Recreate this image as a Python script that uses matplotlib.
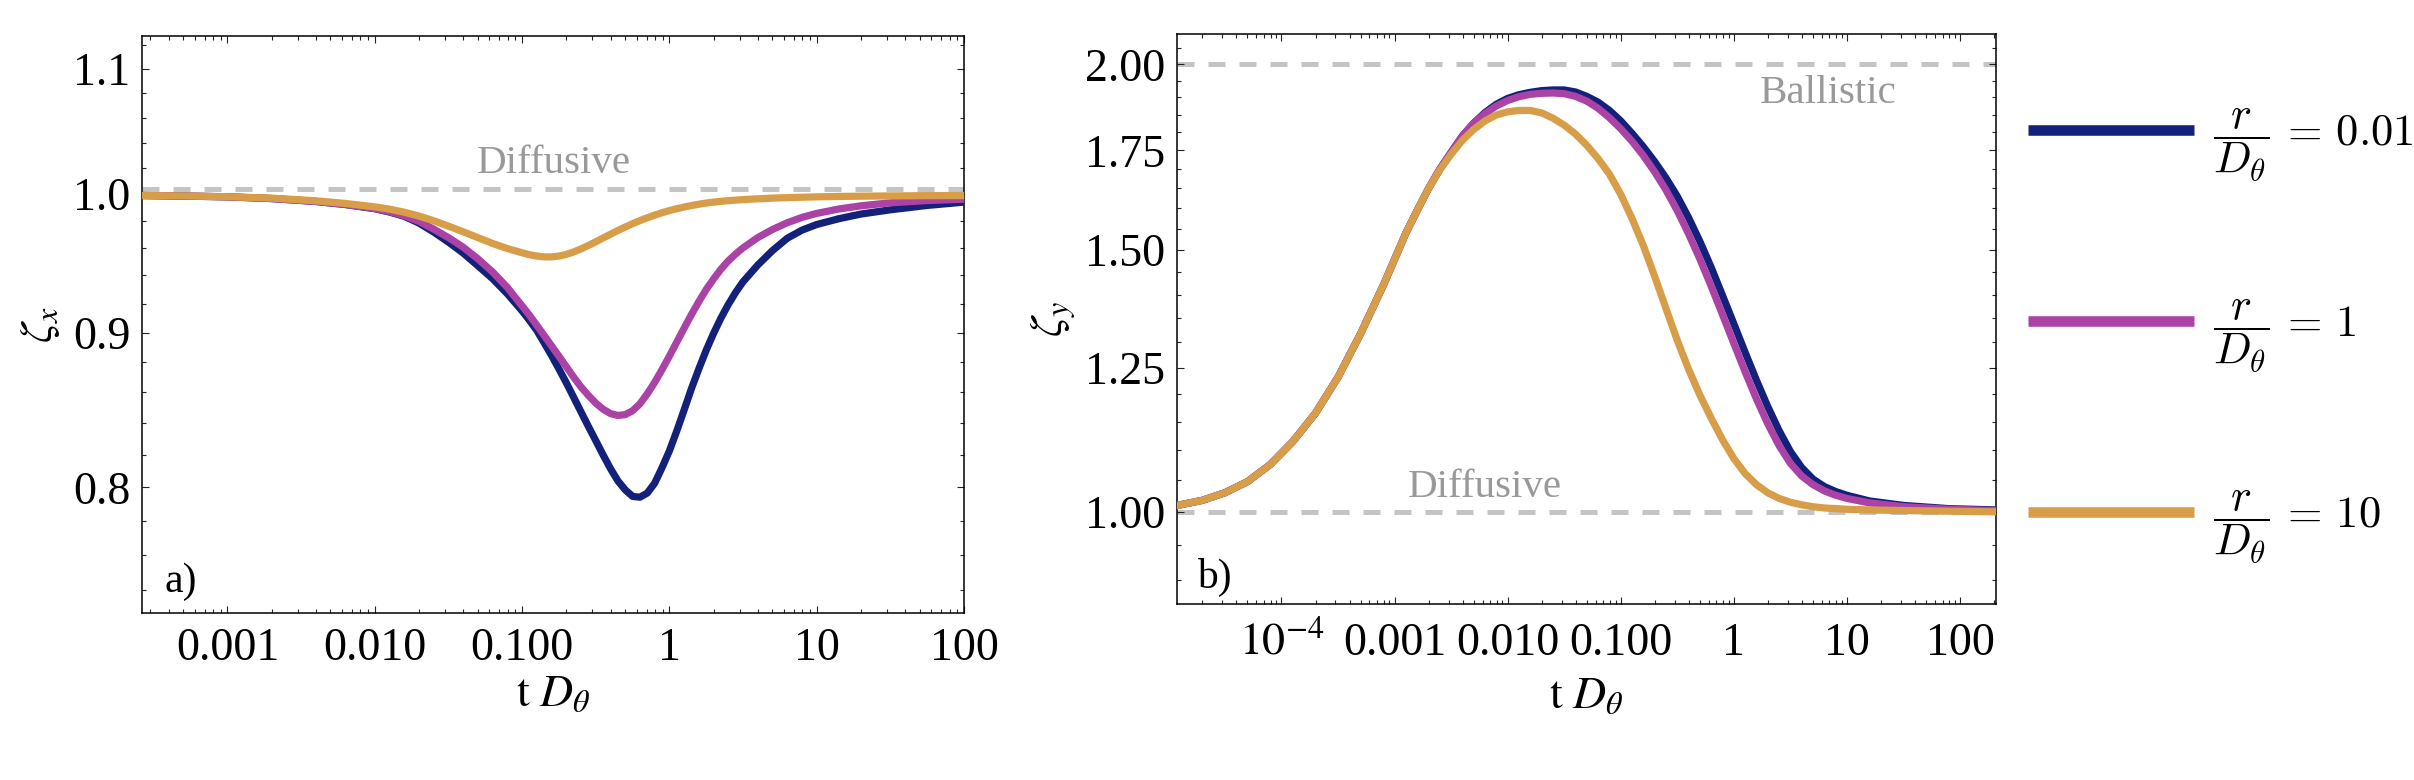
import numpy as np
import matplotlib
matplotlib.use("Agg")
import matplotlib.pyplot as plt
from matplotlib.ticker import FixedLocator, FixedFormatter, LogLocator, NullFormatter
from matplotlib.font_manager import FontProperties
from matplotlib.lines import Line2D

plt.rcParams['font.family'] = ['Liberation Serif', 'DejaVu Serif']
plt.rcParams['mathtext.fontset'] = 'stix'

# ---- data ----
ratios = ['0.01', '1', '10']
colors = ['#13217a', '#ab43a7', '#d89d48']

# panel a) zeta_x vs t D_theta (given as log10 of t D_theta)
log_t_a = [-3.58, -3.3, -3.0, -2.7, -2.4, -2.2, -2.0, -1.9, -1.8, -1.7, -1.6, -1.5,
           -1.4, -1.3, -1.2, -1.1, -1.0, -0.95, -0.9, -0.85, -0.8, -0.75, -0.7, -0.65,
           -0.6, -0.55, -0.5, -0.45, -0.4, -0.35, -0.3, -0.25, -0.2, -0.15, -0.1, -0.05,
           0.0, 0.05, 0.1, 0.15, 0.2, 0.25, 0.3, 0.35, 0.4, 0.45, 0.5, 0.6, 0.7, 0.8,
           0.9, 1.0, 1.15, 1.3, 1.5, 1.75, 2.0]
zeta_x_001 = [0.9990, 0.9986, 0.9980, 0.9967, 0.9945, 0.9922, 0.9890, 0.9865, 0.9833,
              0.9783, 0.9716, 0.9642, 0.9562, 0.9470, 0.9377, 0.9270, 0.9150, 0.9085,
              0.9015, 0.8930, 0.8845, 0.8755, 0.8663, 0.8568, 0.8473, 0.8380, 0.8290,
              0.8200, 0.8115, 0.8040, 0.7985, 0.7945, 0.7940, 0.7965, 0.8025, 0.8120,
              0.8225, 0.8350, 0.8485, 0.8625, 0.8755, 0.8880, 0.8995, 0.9100, 0.9195,
              0.9280, 0.9355, 0.9475, 0.9580, 0.9670, 0.9730, 0.9772, 0.9815, 0.9850,
              0.9882, 0.9915, 0.9940]
zeta_x_1 = [0.9990, 0.9986, 0.9980, 0.9967, 0.9945, 0.9922, 0.9892, 0.9868, 0.9837,
            0.9795, 0.9738, 0.9675, 0.9605, 0.9520, 0.9425, 0.9315, 0.9185, 0.9120,
            0.9050, 0.8980, 0.8910, 0.8840, 0.8770, 0.8700, 0.8635, 0.8580, 0.8530,
            0.8490, 0.8462, 0.8450, 0.8455, 0.8480, 0.8525, 0.8590, 0.8665, 0.8750,
            0.8840, 0.8935, 0.9030, 0.9125, 0.9215, 0.9300, 0.9375, 0.9445, 0.9505,
            0.9555, 0.9600, 0.9675, 0.9735, 0.9785, 0.9825, 0.9855, 0.9888, 0.9912,
            0.9935, 0.9952, 0.9962]
zeta_x_10 = [0.9990, 0.9987, 0.9981, 0.9970, 0.9950, 0.9930, 0.9904, 0.9887, 0.9864,
             0.9835, 0.9800, 0.9760, 0.9718, 0.9675, 0.9632, 0.9595, 0.9564, 0.9550,
             0.9540, 0.9534, 0.9534, 0.9540, 0.9552, 0.9570, 0.9592, 0.9617, 0.9644,
             0.9672, 0.9700, 0.9727, 0.9753, 0.9778, 0.9801, 0.9822, 0.9842, 0.9860,
             0.9876, 0.9890, 0.9903, 0.9914, 0.9924, 0.9933, 0.9940, 0.9946, 0.9951,
             0.9955, 0.9959, 0.9965, 0.9970, 0.9974, 0.9977, 0.9980, 0.9983, 0.9985,
             0.9987, 0.9989, 0.9990]

# panel b) zeta_y vs t D_theta
log_t_b = [-4.92, -4.7, -4.5, -4.3, -4.1, -3.9, -3.7, -3.5, -3.3, -3.1, -2.9, -2.8,
           -2.7, -2.6, -2.5, -2.4, -2.3, -2.2, -2.1, -2.0, -1.9, -1.8, -1.7, -1.6,
           -1.5, -1.4, -1.3, -1.2, -1.1, -1.0, -0.9, -0.8, -0.7, -0.6, -0.5, -0.4,
           -0.3, -0.2, -0.1, 0.0, 0.1, 0.2, 0.3, 0.4, 0.5, 0.6, 0.7, 0.8, 0.9, 1.0,
           1.2, 1.5, 1.9, 2.32]
zeta_y_001 = [1.010, 1.018, 1.030, 1.048, 1.076, 1.115, 1.165, 1.232, 1.318, 1.420,
              1.540, 1.595, 1.650, 1.700, 1.745, 1.790, 1.826, 1.856, 1.880, 1.897,
              1.908, 1.915, 1.920, 1.922, 1.922, 1.916, 1.903, 1.886, 1.862, 1.832,
              1.797, 1.760, 1.720, 1.677, 1.630, 1.577, 1.520, 1.460, 1.398, 1.338,
              1.280, 1.226, 1.177, 1.134, 1.098, 1.071, 1.052, 1.040, 1.032, 1.026,
              1.017, 1.010, 1.005, 1.003]
zeta_y_1 = [1.010, 1.018, 1.030, 1.048, 1.076, 1.115, 1.165, 1.232, 1.318, 1.420,
            1.540, 1.595, 1.650, 1.700, 1.745, 1.790, 1.826, 1.853, 1.875, 1.891,
            1.902, 1.909, 1.912, 1.913, 1.911, 1.903, 1.889, 1.868, 1.841, 1.810,
            1.775, 1.736, 1.693, 1.646, 1.594, 1.538, 1.479, 1.418, 1.357, 1.298,
            1.242, 1.191, 1.146, 1.108, 1.078, 1.057, 1.043, 1.033, 1.026, 1.021,
            1.014, 1.008, 1.004, 1.002]
zeta_y_10 = [1.010, 1.018, 1.030, 1.048, 1.076, 1.115, 1.165, 1.232, 1.318, 1.420,
             1.540, 1.595, 1.650, 1.698, 1.740, 1.778, 1.808, 1.832, 1.849, 1.858,
             1.862, 1.862, 1.855, 1.840, 1.820, 1.795, 1.764, 1.728, 1.687, 1.635,
             1.575, 1.510, 1.440, 1.370, 1.304, 1.247, 1.198, 1.156, 1.118, 1.086,
             1.061, 1.043, 1.030, 1.021, 1.015, 1.011, 1.008, 1.006, 1.005, 1.004,
             1.003, 1.002, 1.001, 1.000]

xticks_a = [1e-3, 1e-2, 1e-1, 1, 10, 100]
xlabels_a = ['0.001', '0.010', '0.100', '1', '10', '100']
xticks_b = [1e-4, 1e-3, 1e-2, 1e-1, 1, 10, 100]
xlabels_b = ['$10^{-4}$', '0.001', '0.010', '0.100', '1', '10', '100']
yticks_a = [0.8, 0.9, 1.0, 1.1]
ylabels_a = ['0.8', '0.9', '1.0', '1.1']
yticks_b = [1.0, 1.25, 1.5, 1.75, 2.0]
ylabels_b = ['1.00', '1.25', '1.50', '1.75', '2.00']

W, H = 2414, 780
fig = plt.figure(figsize=(W / 100, H / 100), dpi=100)


def px_axes(l, r, t, b):
    return fig.add_axes([l / W, 1 - b / H, (r - l) / W, (b - t) / H])


ax1 = px_axes(142, 964, 36, 613)
ax2 = px_axes(1177, 1996, 34, 604)

grey = '#c4c4c4'
textgrey = '#999999'
tick_fs = 33

for ax, (xt, xl, yt, yl) in zip([ax1, ax2], [(xticks_a, xlabels_a, yticks_a, ylabels_a),
                                              (xticks_b, xlabels_b, yticks_b, ylabels_b)]):
    ax.set_xscale('log')
    ax.set_yscale('log')
    ax.xaxis.set_major_locator(FixedLocator(xt))
    ax.xaxis.set_major_formatter(FixedFormatter(xl))
    ax.xaxis.set_minor_locator(LogLocator(base=10, subs=np.arange(2, 10), numticks=20))
    ax.xaxis.set_minor_formatter(NullFormatter())
    ax.yaxis.set_major_locator(FixedLocator(yt))
    ax.yaxis.set_major_formatter(FixedFormatter(yl))
    ax.yaxis.set_minor_formatter(NullFormatter())
    ax.tick_params(which='both', direction='in', top=True, right=True,
                   labelsize=tick_fs, width=0.8, color='#222222')
    ax.tick_params(which='major', length=4.8)
    ax.tick_params(which='minor', length=3.0)
    ax.tick_params(axis='y', which='major', pad=8.5)
    for s in ax.spines.values():
        s.set_linewidth(1.1)

ax1.yaxis.set_minor_locator(FixedLocator(np.round(np.arange(0.72, 1.13, 0.02), 2)))
ax2.yaxis.set_minor_locator(FixedLocator(np.round(np.arange(0.85, 2.1, 0.05), 2)))
ax1.tick_params(axis='x', which='major', pad=10.5)
ax2.tick_params(axis='x', which='major', pad=13)

ax1.set_xlim(10 ** -3.58, 100)
ax1.set_ylim(0.727, 1.128)
ax2.set_xlim(10 ** -4.924, 208)
ax2.set_ylim(0.867, 2.096)

dash = dict(color=grey, lw=3.6, dashes=(3.4, 2.8), zorder=1)
ax1.axhline(1.004, **dash)
ax2.axhline(1.0, **dash)
ax2.axhline(2.0, **dash)

ta = 10 ** np.array(log_t_a)
tb = 10 ** np.array(log_t_b)
for zx, zy, c in zip([zeta_x_001, zeta_x_1, zeta_x_10], [zeta_y_001, zeta_y_1, zeta_y_10], colors):
    ax1.plot(ta, zx, color=c, lw=5.2, solid_joinstyle='round', zorder=3)
    ax2.plot(tb, zy, color=c, lw=5.2, solid_joinstyle='round', zorder=3)

ax1.text(0.0494, 1.016, 'Diffusive', color=textgrey, fontsize=29.5, va='baseline', ha='left')
ax2.text(1.3e-3, 1.023, 'Diffusive', color=textgrey, fontsize=29.5, va='baseline', ha='left')
ax2.text(1.68, 1.884, 'Ballistic', color=textgrey, fontsize=29.5, va='baseline', ha='left')

ax1.text(0.027, 0.037, 'a)', transform=ax1.transAxes, fontsize=30, va='baseline')
ax2.text(0.024, 0.028, 'b)', transform=ax2.transAxes, fontsize=30, va='baseline')

ax1.set_xlabel(r'$\mathrm{t}\ D_\theta$', fontsize=33)
ax2.set_xlabel(r'$\mathrm{t}\ D_\theta$', fontsize=33)
ax1.set_ylabel(r'$\zeta_x$', fontsize=33)
ax2.set_ylabel(r'$\zeta_y$', fontsize=33)
ax1.xaxis.set_label_coords(0.5, -0.104)
ax2.xaxis.set_label_coords(0.5, -0.126)
ax1.xaxis.label.set_va('top')
ax2.xaxis.label.set_va('top')
ax1.yaxis.set_label_coords(-0.097, 0.5)
ax2.yaxis.set_label_coords(-0.121, 0.5)

handles = [Line2D([], [], color=c, lw=7.6, solid_capstyle='butt') for c in colors]
labels = [r'$\dfrac{r}{D_\theta}\,=\,%s$' % r for r in ratios]
leg_font = FontProperties(family='Liberation Serif', size=32, math_fontfamily='cm')
fig.legend(handles, labels, loc='center left', bbox_to_anchor=(2028 / W, 1 - 336 / H),
           frameon=False, prop=leg_font, handlelength=3.74, handletextpad=0.42,
           labelspacing=2.57, borderpad=0, borderaxespad=0)

fig.savefig('out.png', dpi=100)
